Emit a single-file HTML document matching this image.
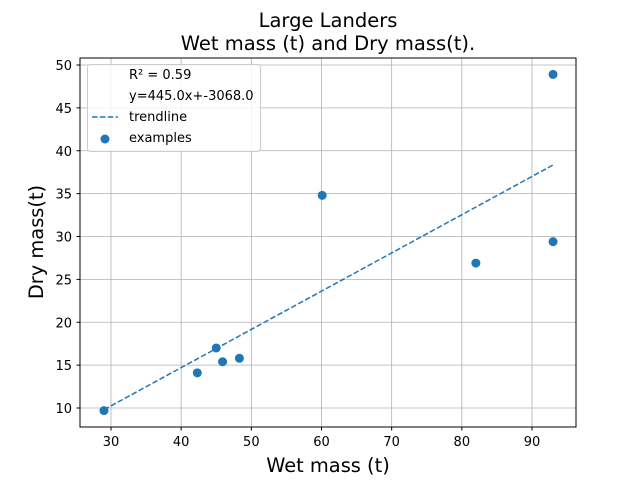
<!DOCTYPE html>
<html><head><meta charset="utf-8"><style>
body{margin:0;background:#fff}
text{font-family:"DejaVu Sans","Liberation Sans",sans-serif;fill:#000}
</style></head><body>
<svg id="chart" width="640" height="480" xmlns="http://www.w3.org/2000/svg">
<rect width="640" height="480" fill="#fff"/>
<text x="328" y="27" font-size="19.5" text-anchor="middle">Large Landers</text>
<text x="328" y="50" font-size="19.5" text-anchor="middle">Wet mass (t) and Dry mass(t).</text>
<g id="grid"></g><g id="trend"></g><g id="pts"></g><g id="axes"></g>
<rect x="80" y="58" width="496" height="369" fill="none" stroke="#000" stroke-width="1"/>
<text x="328" y="472" font-size="19.4" text-anchor="middle">Wet mass (t)</text>
<text transform="translate(43,242) rotate(-90)" font-size="19.4" text-anchor="middle">Dry mass(t)</text>
<g>
<rect x="87.5" y="64.5" width="173" height="87" rx="3" fill="#fff" fill-opacity="0.8" stroke="#ccc"/>
<text x="129" y="79" font-size="13">R² = 0.59</text>
<text x="129" y="100" font-size="13">y=445.0x+-3068.0</text>
<line x1="92" y1="117" x2="118" y2="117" stroke="#1f77b4" stroke-width="1.5" stroke-dasharray="5.5,2.4"/>
<text x="129" y="121" font-size="13">trendline</text>
<circle cx="105" cy="139" r="4.5" fill="#1f77b4"/>
<text x="129" y="142" font-size="13">examples</text>
</g>
</svg>
<script>
const wetMass=[29,42.3,45,45.9,48.3,60.1,82,93,93];
const dryMass=[9.7,14.1,17,15.4,15.8,34.8,26.9,29.4,48.9];
const xTicks=[30,40,50,60,70,80,90];
const yTicks=[10,15,20,25,30,35,40,45,50];
const NS="http://www.w3.org/2000/svg";
const X=v=>111+(v-30)*421/60;
const Y=v=>408-(v-10)*343/40;
function mk(t,a,p){const e=document.createElementNS(NS,t);for(const k in a)e.setAttribute(k,a[k]);p.appendChild(e);return e;}
const g=document.getElementById('grid'),ax=document.getElementById('axes');
xTicks.forEach(v=>{
 const l=mk('line',{x1:X(v),x2:X(v),y1:58,y2:427,stroke:'#b0b0b0','stroke-width':0.8},g);
 
 
 mk('line',{x1:X(v),x2:X(v),y1:427,y2:430.5,stroke:'#000'},ax);
 const t=mk('text',{x:X(v),y:446,'font-size':13,'text-anchor':'middle'},ax);t.textContent=v;
 
 
});
yTicks.forEach(v=>{
 const l=mk('line',{x1:80,x2:576,y1:Y(v),y2:Y(v),stroke:'#b0b0b0','stroke-width':0.8},g);
 
 
 mk('line',{x1:76.5,x2:80,y1:Y(v),y2:Y(v),stroke:'#000'},ax);
 const t=mk('text',{x:72,y:Y(v)+5,'font-size':13,'text-anchor':'end'},ax);t.textContent=v;
 
 
});
const n=wetMass.length,mx=wetMass.reduce((a,b)=>a+b)/n,my=dryMass.reduce((a,b)=>a+b)/n;
let sxy=0,sxx=0;wetMass.forEach((x,i)=>{sxy+=(x-mx)*(dryMass[i]-my);sxx+=(x-mx)**2;});
const m=sxy/sxx,b=my-m*mx,x0=Math.min(...wetMass),x1=Math.max(...wetMass);
const tl=mk('line',{x1:X(x0),y1:Y(m*x0+b),x2:X(x1),y2:Y(m*x1+b),stroke:'#1f77b4','stroke-width':1.5,'stroke-dasharray':'5.5,2.4'},document.getElementById('trend'));


const pg=document.getElementById('pts');
wetMass.forEach((x,i)=>{
 const c=mk('circle',{cx:X(x),cy:Y(dryMass[i]),r:4.5,fill:'#1f77b4'},pg);
 
 
});
</script>
</body></html>
